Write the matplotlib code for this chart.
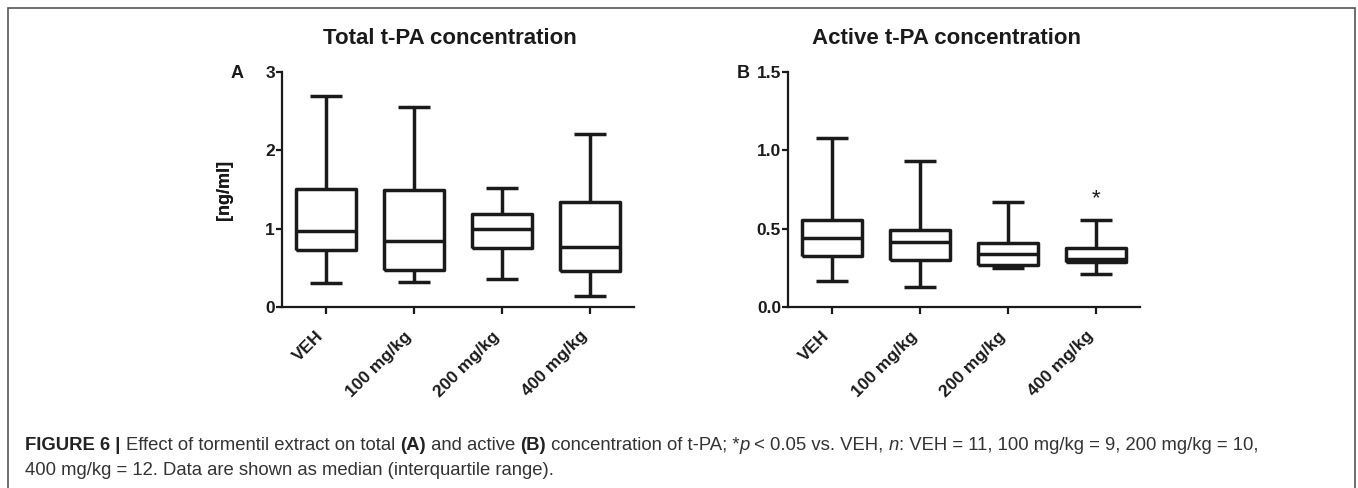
import matplotlib
matplotlib.use("Agg")
import matplotlib.pyplot as plt
from matplotlib.patches import Rectangle
from matplotlib.transforms import ScaledTranslation, blended_transform_factory

plt.rcParams['font.family'] = ['Liberation Sans', 'DejaVu Sans']

# ---- data ----
groups = ["VEH", "100 mg/kg", "200 mg/kg", "400 mg/kg"]

total_whislo = [0.31, 0.32, 0.36, 0.145]
total_q1     = [0.73, 0.47, 0.75, 0.455]
total_med    = [0.97, 0.84, 0.99, 0.77]
total_q3     = [1.51, 1.49, 1.19, 1.34]
total_whishi = [2.69, 2.55, 1.52, 2.21]

active_whislo = [0.164, 0.126, 0.247, 0.212]
active_q1     = [0.326, 0.298, 0.268, 0.289]
active_med    = [0.440, 0.413, 0.336, 0.307]
active_q3     = [0.553, 0.489, 0.408, 0.375]
active_whishi = [1.081, 0.932, 0.672, 0.558]

total_ticks = [0, 1, 2, 3]
total_ticklabels = ["0", "1", "2", "3"]
active_ticks = [0.0, 0.5, 1.0, 1.5]
active_ticklabels = ["0.0", "0.5", "1.0", "1.5"]

sig_group = 3
sig_y = 0.69

W, H = 1358, 488
fig = plt.figure(figsize=(W / 100, H / 100), dpi=100)

LW = 2.5
props = dict(color='#1a1a1a', linewidth=LW, solid_capstyle='butt', solid_joinstyle='round')


def make_panel(left_px, title, title_cx, letter, whislo, q1, med, q3, whishi,
               ticks, ticklabels, ymax):
    ax = fig.add_axes([left_px / W, 1 - 307 / H, 352 / W, 235 / H])
    stats = []
    for g, a, b, c, d, e in zip(groups, whislo, q1, med, q3, whishi):
        stats.append(dict(label=g, whislo=a, q1=b, med=c, q3=d, whishi=e, fliers=[]))
    ax.bxp(stats, positions=range(len(groups)), widths=0.69, showfliers=False,
           boxprops=props, medianprops=props, whiskerprops=props,
           capprops=props, capwidths=0.37)
    ax.set_xlim(-0.5, len(groups) - 0.5)
    ax.set_ylim(0, ymax)
    for s in ['top', 'right']:
        ax.spines[s].set_visible(False)
    for s in ['left', 'bottom']:
        ax.spines[s].set_linewidth(1.6)
        ax.spines[s].set_color('#1a1a1a')
    ax.set_yticks(ticks)
    ax.set_yticklabels(ticklabels, fontsize=12.5, fontweight='bold')
    ax.set_xticks(range(len(groups)))
    ax.set_xticklabels([])
    trans = blended_transform_factory(ax.transData, ax.transAxes) + \
        ScaledTranslation(-10 / 100, -21.5 / 100, fig.dpi_scale_trans)
    for i, g in enumerate(groups):
        ax.text(i, 0, g, transform=trans, fontsize=12.5, fontweight='bold',
                rotation=45, ha='right', va='top', rotation_mode='anchor',
                color='#1a1a1a')
    ax.tick_params(axis='y', length=4, width=1.6, pad=1, colors='#1a1a1a')
    ax.tick_params(axis='x', length=5, width=1.6, colors='#1a1a1a')
    fig.text(225 / W, 1 - 190 / H, "[ng/ml]", fontsize=13, fontweight='bold',
             rotation=90, ha='center', va='center', color='#1a1a1a')
    fig.text(title_cx / W, 1 - 39 / H, title, fontsize=16, fontweight='bold',
             ha='center', va='center', color='#1a1a1a')
    fig.text((left_px - 45) / W, 1 - 73 / H, letter,
             fontsize=13, fontweight='bold', ha='center', va='center', color='#1a1a1a')
    ax.patch.set_alpha(0)
    return ax


axA = make_panel(282, "Total t-PA concentration", 450, "A",
                 total_whislo, total_q1, total_med, total_q3, total_whishi,
                 total_ticks, total_ticklabels, 3)
axB = make_panel(788, "Active t-PA concentration", 947, "B",
                 active_whislo, active_q1, active_med, active_q3, active_whishi,
                 active_ticks, active_ticklabels, 1.5)
axB.text(sig_group, sig_y, "*", fontsize=16, ha='center', va='center', color='#1a1a1a')

# frame
fig.add_artist(Rectangle((8 / W, -0.05), (1355 - 8) / W, 1.05 - 8.5 / H,
                         transform=fig.transFigure, fill=False, edgecolor='#555555',
                         linewidth=1.2, clip_on=False))

# caption
line1 = [("FIGURE 6 | ", 'bold', 'normal', '#222222'),
         ("Effect of tormentil extract on total ", 'normal', 'normal', '#333333'),
         ("(A)", 'bold', 'normal', '#222222'),
         (" and active ", 'normal', 'normal', '#333333'),
         ("(B)", 'bold', 'normal', '#222222'),
         (" concentration of t-PA; *", 'normal', 'normal', '#333333'),
         ("p", 'normal', 'italic', '#333333'),
         (" < 0.05 vs. VEH, ", 'normal', 'normal', '#333333'),
         ("n", 'normal', 'italic', '#333333'),
         (": VEH = 11, 100 mg/kg = 9, 200 mg/kg = 10,", 'normal', 'normal', '#333333')]
line2 = [("400 mg/kg = 12. Data are shown as median (interquartile range).", 'normal', 'normal', '#333333')]

renderer = fig.canvas.get_renderer()


def draw_line(segs, x0_px, base_px, size):
    x = x0_px
    arts = []
    for txt, wt, st, col in segs:
        t = fig.text(x / W, 1 - base_px / H, txt, fontsize=size, fontweight=wt,
                     fontstyle=st, color=col, ha='left', va='baseline')
        bb = t.get_window_extent(renderer=renderer)
        x = bb.x1
        arts.append(t)
    return arts, x - x0_px


test, width = draw_line(line1, 25, 450, 10)
for t in test:
    t.remove()
size = 10 * (1265 - 25) / width
draw_line(line1, 25, 450, size)
draw_line(line2, 25, 475, size)

fig.savefig("out.png", dpi=100)
